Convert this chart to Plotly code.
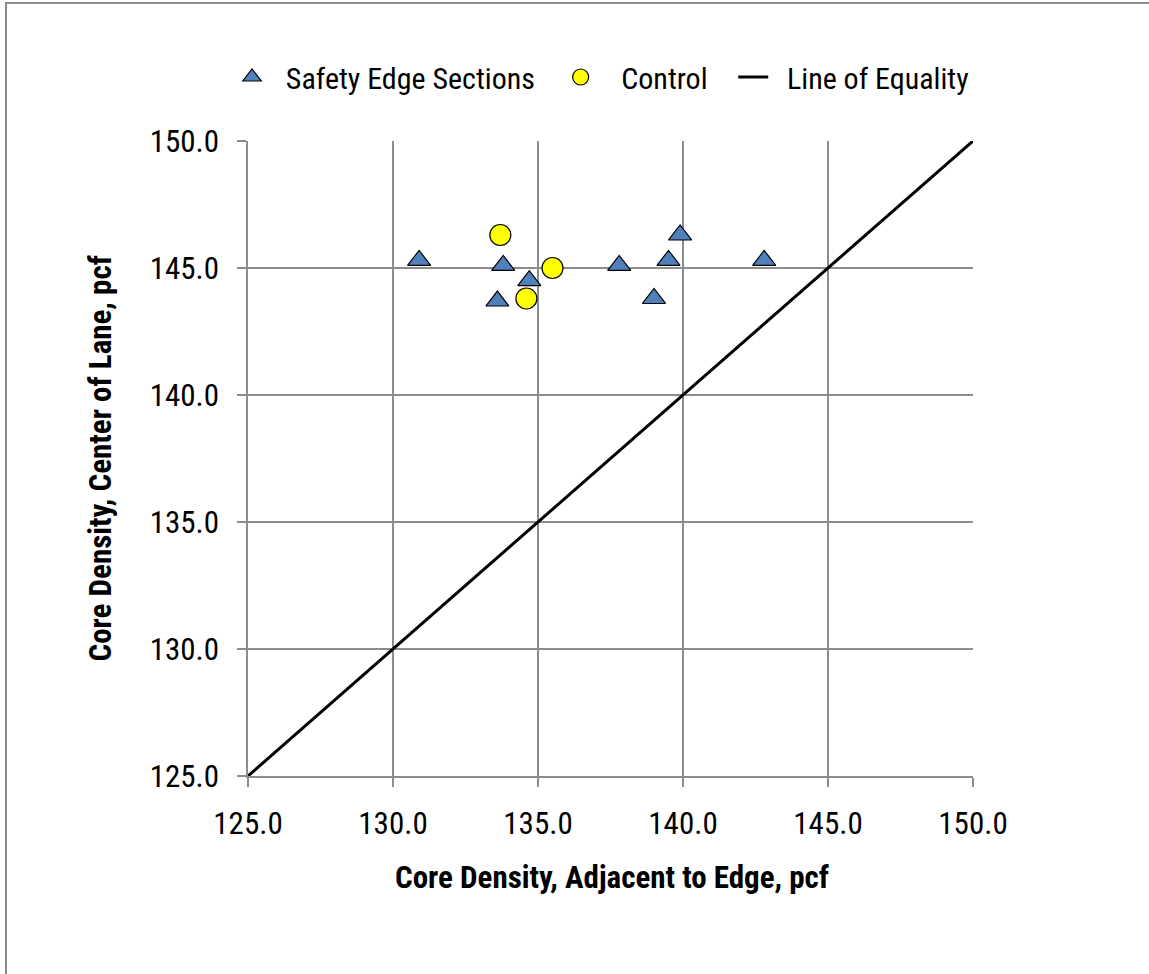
import plotly.graph_objects as go

# Data
safety_x = [130.9, 133.8, 133.6, 134.7, 137.8, 139.0, 139.5, 139.9, 142.8]
safety_y = [145.3, 145.1, 143.7, 144.5, 145.1, 143.8, 145.3, 146.3, 145.3]
control_x = [133.7, 135.5, 134.6]
control_y = [146.3, 145.0, 143.8]
equality_x = [125.0, 150.0]
equality_y = [125.0, 150.0]
tick_vals = [125, 130, 135, 140, 145, 150]
tick_text = ["125.0", "130.0", "135.0", "140.0", "145.0", "150.0"]
x_title = "Core Density, Adjacent to Edge, pcf"
y_title = "Core Density, Center of Lane, pcf"

FONT = "Liberation Sans Narrow, Roboto Condensed, Open Sans, sans-serif"
NB = "\u00a0"

fig = go.Figure()
fig.add_trace(go.Scatter(
    x=safety_x, y=safety_y, mode="markers",
    name=NB * 2 + "Safety Edge Sections" + NB * 3,
    marker=dict(symbol="triangle-up", size=20, color="#4F81BD",
                line=dict(color="black", width=1.2)),
))
fig.add_trace(go.Scatter(
    x=control_x, y=control_y, mode="markers",
    name=NB * 3 + "Control" + NB * 3,
    marker=dict(symbol="circle", size=21, color="#FFFF00",
                line=dict(color="black", width=1.2)),
))
fig.add_trace(go.Scatter(
    x=equality_x, y=equality_y, mode="lines", name=NB * 2 + "Line of Equality",
    line=dict(color="black", width=3),
))

axis_common = dict(
    range=[125, 150], tickvals=tick_vals, ticktext=tick_text,
    showgrid=True, gridcolor="#8c8c8c", gridwidth=1.5,
    showline=True, linecolor="#8c8c8c", linewidth=1.5,
    ticks="outside", ticklen=9, tickcolor="#8c8c8c", tickwidth=1.5,
    zeroline=False, tickfont=dict(family=FONT, size=31, color="black"),
    mirror=False,
)

fig.update_layout(
    width=1149, height=974,
    margin=dict(l=248, r=176, t=141, b=198),
    paper_bgcolor="white", plot_bgcolor="white",
    font=dict(family=FONT, color="black"),
    xaxis=dict(**axis_common, ticklabelstandoff=10),
    yaxis=dict(**axis_common, ticklabelstandoff=12),
    legend=dict(orientation="h", x=-0.022, xanchor="left", y=1.1008, yanchor="middle",
                font=dict(family=FONT, size=30), bgcolor="rgba(0,0,0,0)"),
    showlegend=True,
)

fig.add_annotation(text="<b>" + x_title + "</b>", xref="paper", yref="paper",
                   x=(612 - 248) / 725, y=(776 - 877) / 635,
                   xanchor="center", yanchor="middle", showarrow=False,
                   font=dict(family=FONT, size=31, color="black"))
fig.add_annotation(text="<b>" + y_title + "</b>", xref="paper", yref="paper",
                   x=(100 - 248) / 725, y=0.5, textangle=-90,
                   xanchor="center", yanchor="middle", showarrow=False,
                   font=dict(family=FONT, size=31, color="black"))

# outer chart border
fig.add_shape(type="rect", xref="paper", yref="paper",
              x0=(6 - 248) / 725, x1=(1160 - 248) / 725,
              y0=(776 - 1000) / 635, y1=(776 - 3) / 635,
              line=dict(color="#8c8c8c", width=2), fillcolor="rgba(0,0,0,0)",
              layer="below")

fig.write_html("out.html", config={"displayModeBar": False},
               post_script="document.body.style.margin='0';document.body.style.overflow='hidden';")
